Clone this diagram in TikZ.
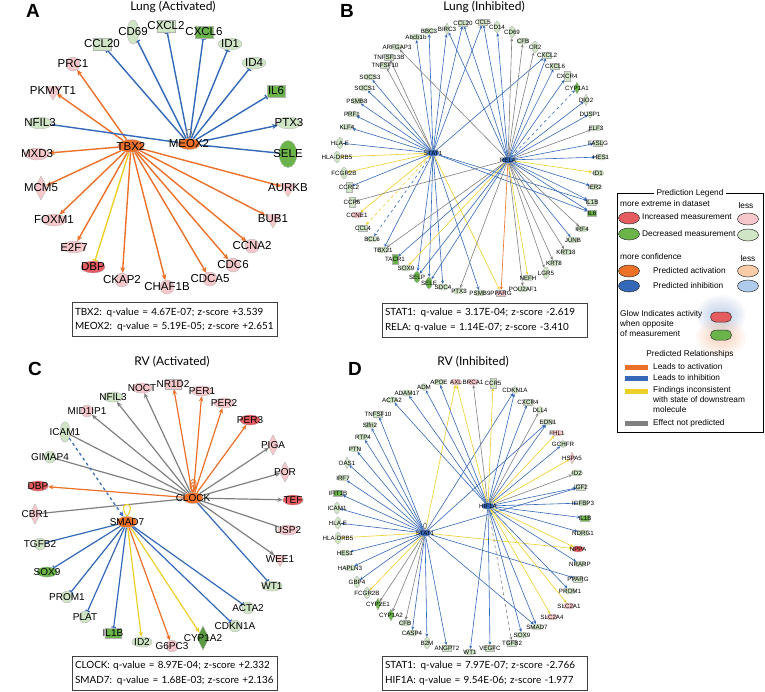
\documentclass[tikz,border=0pt]{standalone}
\usepackage{fontspec}
\setmainfont{Liberation Sans}
\newfontfamily\boxfont{Lato}
\usetikzlibrary{arrows.meta,shapes.geometric}
\pgfdeclarelayer{bg}
\pgfsetlayers{bg,main}

\definecolor{ndp}{RGB}{228,92,96}
\definecolor{nlp}{RGB}{246,200,204}
\definecolor{ndg}{RGB}{106,180,74}
\definecolor{nlg}{RGB}{208,228,198}
\definecolor{actor}{RGB}{236,112,40}
\definecolor{inhbl}{RGB}{52,104,184}
\definecolor{incye}{RGB}{238,206,40}
\definecolor{nprgy}{RGB}{128,128,128}
\definecolor{lorange}{RGB}{248,204,166}
\definecolor{lblue}{RGB}{176,204,236}

\tikzset{
  gshape/.style={inner sep=0pt, draw=black!30, line width=0.3pt},
  ov/.style={gshape, ellipse, minimum width=2.4*\nsz, minimum height=1.2*\nsz},
  vov/.style={gshape, ellipse, minimum width=1.2*\nsz, minimum height=2.4*\nsz},
  rc/.style={gshape, rectangle, minimum width=1.8*\nsz, minimum height=1.2*\nsz},
  vrc/.style={gshape, rectangle, minimum width=1.1*\nsz, minimum height=1.9*\nsz},
  ci/.style={gshape, circle, minimum size=1.4*\nsz},
  dm/.style={gshape, diamond, minimum width=1.3*\nsz, minimum height=2.4*\nsz},
  tri/.style={gshape, regular polygon, regular polygon sides=3, shape border rotate=180, minimum size=1.8*\nsz},
  hub/.style={gshape, ellipse, minimum width=2.6*\nsz, minimum height=1.3*\nsz},
  act/.style={draw=actor, line width=\lw, -{Stealth[length=1.5pt 3, width=1.5pt 2.5]}},
  inh/.style={draw=inhbl, line width=\lw, -{Bar[width=1pt 3]}},
  inha/.style={draw=inhbl, line width=\lw, -{Stealth[length=1.5pt 3, width=1.5pt 2.5]}},
  inhl/.style={draw=inhbl, line width=\lw},
  inc/.style={draw=incye, line width=\lw, -{Stealth[length=1.5pt 3, width=1.5pt 2.5]}},
  incb/.style={draw=incye, line width=\lw, -{Bar[width=1pt 3]}},
  npr/.style={draw=nprgy, line width=\lw, -{Stealth[length=1.5pt 3, width=1.5pt 2.5]}},
  nprl/.style={draw=nprgy, line width=\lw},
  ttl/.style={font=\boxfont\fontsize{12}{12}\selectfont, inner sep=0pt},
  plet/.style={font=\fontsize{19}{19}\selectfont\bfseries, inner sep=0pt},
  qbox/.style={draw=black!75, line width=0.9pt, font=\boxfont\fontsize{9.9}{14.5}\selectfont,
    align=left, inner sep=0pt, minimum width=205, minimum height=34, text width=199},
  lgtxt/.style={font=\fontsize{8.3}{10}\selectfont, inner sep=0pt, anchor=west},
  lgov/.style={ellipse, draw=black!80, line width=0.5pt, minimum width=21, minimum height=12, inner sep=0pt},
  lgpill/.style={rectangle, rounded corners=5pt, draw=black!80, line width=0.5pt, minimum width=21, minimum height=10, inner sep=0pt},
}

\begin{document}
\begin{tikzpicture}[x=1pt, y=-1pt]
\useasboundingbox (0,0) rectangle (765,691);

% A: Lung (Activated)
\begin{scope}[every label/.append style={font=\fontsize{11.5}{12}\selectfont, inner sep=0pt}]
\def\nsz{10}\def\lw{1.4pt}
\node[plet] (Alet) at (33,11) {A};
\node[ttl] (Attl) at (173,7) {Lung (Activated)};
\foreach \n/\x/\y/\s/\c/\t in {
  ccl20/102/44/rc/nlg/CCL20, cd69/133/32/vov/nlg/CD69, cxcl2/166/26/rc/nlg/CXCL2,
  cxcl6/204/32/rc/ndg/CXCL6, id1/230/44/ov/nlg/ID1, id4/254/63/ov/nlg/ID4,
  il6/276/91/rc/ndg/IL6, ptx3/289/123/ov/nlg/PTX3, aurkb/288/188/tri/nlp/AURKB,
  bub1/273/219/tri/nlp/BUB1, ccna2/252/246/ci/nlp/CCNA2, cdc6/233/265/ci/nlp/CDC6,
  cdca5/210/279/ci/nlp/CDCA5, chaf1b/167/287/ci/nlp/CHAF1B, ckap2/122/280/ci/nlp/CKAP2,
  dbp/93/267/ov/ndp/DBP, e2f7/74/247/ov/nlp/E2F7, foxm1/54/220/ov/nlp/FOXM1,
  mcm5/41/188/dm/nlp/MCM5, mxd3/37/154/ov/nlp/MXD3, nfil3/40/123/ov/nlg/NFIL3,
  pkmyt1/53/91/tri/nlp/PKMYT1, prc1/73/64/ci/nlp/PRC1}
  \node[\s, fill=\c, label=center:\t] (A\n) at (\x,\y) {};
\node[vov, fill=ndg, minimum width=18, minimum height=27, label=center:SELE] (Asele) at (288,154) {};
\node[hub, fill=actor, label=center:TBX2] (Atbx2) at (131,146) {};
\node[hub, fill=actor, minimum width=22, minimum height=11, label=center:MEOX2] (Ameox2) at (189,144) {};
\begin{pgfonlayer}{bg}
\foreach \t in {prc1,pkmyt1,mxd3,mcm5,foxm1,e2f7,ckap2,chaf1b,cdca5,cdc6,ccna2,bub1,aurkb}
  \draw[act] (Atbx2) -- (A\t);
\draw[incb] (Atbx2) -- (Adbp);
\foreach \t in {ccl20,cd69,cxcl2,cxcl6,id1,id4,il6}
  \draw[inh] (Ameox2) -- (A\t);
\draw[inha] (Ameox2) -- (Aptx3);
\foreach \t in {sele,nfil3}
  \draw[inhl] (Ameox2) -- (A\t);
\draw[nprl, line width=0.8pt] (Ameox2.north) .. controls +(-9,-12) and +(9,-12) .. (Ameox2.north);
\end{pgfonlayer}
\node[qbox] (Aq) at (174.5,319.5) {TBX2: q-value = 4.67E-07; z-score +3.539\\MEOX2: q-value = 5.19E-05; z-score +2.651};
\end{scope}

% B: Lung (Inhibited)
\begin{scope}[every label/.append style={font=\fontsize{6.2}{7}\selectfont, inner sep=0pt}]
\def\nsz{5}\def\lw{0.6pt}
\node[plet] (Blet) at (347,11) {B};
\node[ttl] (Bttl) at (484,7) {Lung (Inhibited)};
\foreach \n/\x/\y/\s/\c/\t in {
  bbc3/429/31/ov/nlg/BBC3, birc3/447/29/dm/nlg/BIRC3, ccl20/463/23/rc/nlg/CCL20,
  abcb1b/416/37/ov/nlg/Abcb1b, arfgap3/397/47/ov/nlg/ARFGAP3, tnfsf13b/389/57/rc/nlg/TNFSF13B,
  tnfsf10/385/65/rc/nlg/TNFSF10, socs3/370/77/ov/nlg/SOCS3, socs1/365/88/ov/nlg/SOCS1,
  psmb8/357/101/ov/nlg/PSMB8, prf1/352/114/ov/nlg/PRF1, klf4/347/127/ov/nlg/KLF4,
  hlae/340/143/vov/nlg/HLA-E, hladrb5/337/157/vov/nlg/HLA-DRB5, fcgr2b/344/173/vov/nlg/FCGR2B,
  ccrl2/349/187/vrc/nlg/CCRL2, ccr6/352/202/vrc/nlg/CCR6, ccne1/357/215/ov/nlp/CCNE1,
  ccl4/363/228/rc/nlg/CCL4, bcl6/372/239/ov/nlg/BCL6, tbx21/383/250/ov/nlg/TBX21,
  tacr1/395/259/vrc/ndg/TACR1, sox9/406/268/ov/nlg/SOX9, selp/417/277/vov/ndg/SELP,
  sele/429/283/vov/ndg/SELE, sdc4/443/287/ov/nlg/SDC4, ptx3/459/291/ov/nlg/PTX3,
  psmb9/480/293/ov/nlg/PSMB9, pparg/501/293/rc/nlp/PPARG, pou2af1/523/289/ov/nlg/POU2AF1,
  nefh/528/278/ov/nlg/NEFH, lgr5/546/273/vov/nlg/LGR5, krt8/554/263/ov/nlg/KRT8,
  krt18/566/252/ov/nlg/KRT18, junb/573/240/ov/nlg/JUNB, irf4/582/229/ov/nlg/IRF4,
  il6/592/213/rc/ndg/IL6, il1b/592/202/rc/nlg/IL1B, ier2/595/187/ov/nlg/IER2,
  id1/598/173/ov/nlg/ID1, hes1/601/157/ov/nlg/HES1, faslg/598/143/rc/nlg/FASLG,
  elf3/596/128/ov/nlg/ELF3, dusp1/590/114/tri/nlg/DUSP1, dio2/586/100/dm/nlg/DIO2,
  cyp1a1/577/88/dm/ndg/CYP1A1, cxcr4/567/76/vrc/nlg/CXCR4, cxcl6/555/66/rc/nlg/CXCL6,
  cxcl2/547/55/rc/nlg/CXCL2, cr2/535/47/vov/nlg/CR2, cfb/523/41/ov/nlg/CFB,
  cd69/512/32/vov/nlg/CD69, cd14/497/27/vov/nlg/CD14, ccl5/483/22/rc/nlg/CCL5}
  \node[\s, fill=\c, label=center:\t] (B\n) at (\x,\y) {};
\node[hub, fill=inhbl, label=center:STAT1] (Bstat1) at (433,153) {};
\node[hub, fill=inhbl, label=center:RELA] (Brela) at (508,160) {};
\begin{pgfonlayer}{bg}
\foreach \t in {bbc3,abcb1b,socs3,socs1,psmb8,prf1,klf4,hlae,ccrl2,tbx21,selp,sele,sdc4,psmb9,ccl20,ccl5,cxcl2,il6,il1b,birc3}
  \draw[inha] (Bstat1) -- (B\t);
\draw[inha, dashed] (Bstat1) -- (Bbcl6);
\foreach \t in {tnfsf10,tnfsf13b}
  \draw[npr] (Bstat1) -- (B\t);
\foreach \t in {hladrb5,fcgr2b,ccne1,pparg}
  \draw[inc] (Bstat1) -- (B\t);
\draw[inc, dashed] (Bstat1) -- (Bccl4);
\foreach \t in {birc3,ccl20,ccl5,cd14,cxcl2,cxcl6,cxcr4,dio2,dusp1,faslg,hes1,ier2,il1b,il6,junb,tacr1,selp,sele}
  \draw[inha] (Brela) -- (B\t);
\draw[inha, dashed] (Brela) -- (Bcyp1a1);
\foreach \t in {arfgap3,cd69,cfb,cr2,elf3,irf4,krt18,krt8,lgr5,pou2af1,ptx3,ccr6,tbx21}
  \draw[npr] (Brela) -- (B\t);
\draw[act] (Brela) -- (Bpparg);
\foreach \t in {id1,nefh,sox9}
  \draw[inc] (Brela) -- (B\t);
\end{pgfonlayer}
\node[qbox] (Bq) at (484.5,320) {STAT1: q-value = 3.17E-04; z-score -2.619\\RELA: q-value = 1.14E-07; z-score -3.410};
\end{scope}

% C: RV (Activated)
\begin{scope}[every label/.append style={font=\fontsize{10}{11}\selectfont, inner sep=0pt}]
\def\nsz{8.5}\def\lw{1.2pt}
\node[plet] (Clet) at (35,369) {C};
\node[ttl] (Cttl) at (172,362) {RV (Activated)};
\foreach \n/\x/\y/\s/\c/\t in {
  noct/142/388/ov/nlp/NOCT, nr1d2/173/384/rc/nlp/NR1D2, per1/202/391/ov/nlp/PER1,
  per2/224/403/ov/nlp/PER2, per3/250/420/ov/ndp/PER3, piga/273/445/dm/nlp/PIGA,
  por/285/472/dm/nlp/POR, tef/293/500/ov/ndp/TEF, usp2/288/530/ov/nlp/USP2,
  wee1/280/559/tri/nlp/WEE1, wt1/272/586/ov/nlg/WT1, acta2/248/608/ci/nlg/ACTA2,
  cdkn1a/235/626/ci/nlg/CDKN1A, g6pc3/172/646/ci/nlp/G6PC3, id2/142/642/ov/nlg/ID2,
  il1b/113/633/rc/ndg/IL1B, plat/85/617/ci/nlg/PLAT, prom1/67/597/ci/nlg/PROM1,
  sox9/47/572/ov/ndg/SOX9, tgfb2/40/544/ci/nlg/TGFB2, cbr1/35/514/dm/nlp/CBR1,
  dbp/38/486/ov/ndp/DBP, gimap4/50/457/ci/nlg/GIMAP4, icam1/65/432/vov/nlg/ICAM1,
  mid1ip1/87/411/ci/nlp/MID1IP1, nfil3/113/397/ov/nlg/NFIL3}
  \node[\s, fill=\c, label=center:\t] (C\n) at (\x,\y) {};
\node[dm, fill=ndg!85!black, minimum width=12, minimum height=24, label=center:CYP1A2] (Ccyp1a2) at (203,638) {};
\node[hub, fill=actor, minimum width=20, minimum height=11, label=center:CLOCK] (Cclock) at (193,498) {};
\node[hub, fill=actor, minimum width=20, minimum height=11, label=center:SMAD7] (Csmad7) at (127,522) {};
\begin{pgfonlayer}{bg}
\foreach \t in {nfil3,noct,mid1ip1,piga,por,tef,wee1}
  \draw[npr] (Cclock) -- (C\t);
\foreach \t in {gimap4,usp2,cbr1,icam1}
  \draw[nprl] (Cclock) -- (C\t);
\foreach \t in {nr1d2,per1,per2,per3,dbp}
  \draw[act] (Cclock) -- (C\t);
\draw[inh] (Cclock) -- (Cwt1);
\foreach \h/\w in {9/5,13/8,17/11}
  \draw[draw=actor, line width=0.9pt] (Cclock.north) .. controls +(-\w,-\h) and +(\w,-\h) .. (Cclock.north);
\foreach \t in {sox9,prom1,plat,il1b,cdkn1a,acta2}
  \draw[inh] (Csmad7) -- (C\t);
\draw[inhl] (Csmad7) -- (Ctgfb2);
\draw[inha, dashed] (Cicam1) -- (Csmad7);
\foreach \t in {id2,cyp1a2}
  \draw[inc] (Csmad7) -- (C\t);
\draw[act] (Csmad7) -- (Cg6pc3);
\draw[draw=incye, line width=1pt] (Csmad7.north) .. controls +(-12,-16) and +(12,-16) .. (Csmad7.north);
\end{pgfonlayer}
\node[qbox] (Cq) at (174.5,673) {CLOCK: q-value = 8.97E-04; z-score +2.332\\SMAD7: q-value = 1.68E-03; z-score +2.136};
\end{scope}

% D: RV (Inhibited)
\begin{scope}[every label/.append style={font=\fontsize{6.2}{7}\selectfont, inner sep=0pt}]
\def\nsz{5}\def\lw{0.6pt}
\node[plet] (Dlet) at (355,369) {D};
\node[ttl] (Dttl) at (473,362) {RV (Inhibited)};
\foreach \n/\x/\y/\s/\c/\t in {
  adm/424/387/ci/nlg/ADM, apoe/439/382/ov/nlg/APOE, axl/456/382/ov/nlp/AXL,
  brca1/473/382/ov/nlp/BRCA1, ccr5/493/383/vrc/nlg/CCR5, cdkn1a/515/390/ci/nlg/CDKN1A,
  cxcr4/528/402/rc/nlg/CXCR4, dll4/540/410/ci/nlg/DLL4, edn1/548/422/ov/nlg/EDN1,
  fhl1/557/433/ov/nlp/FHL1, gchfr/563/444/ci/nlg/GCHFR, hspa5/572/458/dm/nlp/HSPA5,
  id2/577/473/ov/nlg/ID2, igf2/581/487/rc/nlg/IGF2, igfbp3/583/503/ov/nlg/IGFBP3,
  il1b/585/518/rc/ndg/IL1B, ndrg1/583/533/ov/nlg/NDRG1, nppa/578/549/ov/ndp/NPPA,
  nrarp/580/564/ov/nlg/NRARP, pparg/578/579/rc/nlg/PPARG, prom1/570/591/ov/nlg/PROM1,
  slc2a1/569/606/ov/nlp/SLC2A1, slc2a4/552/617/ov/nlp/SLC2A4, smad7/537/627/ov/nlg/SMAD7,
  sox9/522/635/ov/nlg/SOX9, tgfb2/512/643/rc/nlg/TGFB2, vegfc/490/648/rc/nlg/VEGFC,
  wt1/470/652/ov/nlg/WT1, angpt2/447/648/rc/nlg/ANGPT2, b2m/427/643/vov/nlg/B2M,
  casp4/412/633/ov/nlg/CASP4, cfb/405/623/ov/nlg/CFB, cyp1a2/391/615/dm/ndg/CYP1A2,
  cyp2e1/378/604/dm/ndg/CYP2E1, fcgr2b/367/593/vov/nlg/FCGR2B, gbp4/357/582/vov/nlg/GBP4,
  hapln3/350/568/ov/nlg/HAPLN3, hes1/345/553/ov/nlg/HES1, hladrb5/338/538/vov/nlg/HLA-DRB5,
  hlae/338/523/vov/nlg/HLA-E, icam1/337/508/vov/nlg/ICAM1, ifit1b/338/493/rc/ndg/IFIT1B,
  irf7/343/478/ov/nlg/IRF7, oas1/347/463/dm/nlg/OAS1, ptn/355/449/ov/nlg/PTN,
  rtp4/363/437/ov/nlg/RTP4, slfn2/370/425/ov/nlg/Slfn2, tnfsf10/378/414/rc/nlg/TNFSF10,
  acta2/392/400/ov/nlg/ACTA2, adam17/407/393/ov/nlg/ADAM17}
  \node[\s, fill=\c, label=center:\t] (D\n) at (\x,\y) {};
\node[hub, fill=inhbl, label=center:STAT1] (Dstat1) at (425,533) {};
\node[hub, fill=inhbl, label=center:HIF1A] (Dhif1a) at (488,506) {};
\begin{pgfonlayer}{bg}
\foreach \t in {tnfsf10,slfn2,rtp4,ptn,oas1,irf7,ifit1b,icam1,hlae,hes1,hapln3,gbp4,casp4,b2m,angpt2,cdkn1a,edn1,pparg,smad7,igf2}
  \draw[inha] (Dstat1) -- (D\t);
\foreach \t in {hladrb5,fcgr2b,axl,nppa}
  \draw[inc] (Dstat1) -- (D\t);
\foreach \t in {cyp2e1,cyp1a2,cfb}
  \draw[npr] (Dstat1) -- (D\t);
\foreach \t in {adm,apoe,adam17,acta2,cdkn1a,cxcr4,edn1,gchfr,igf2,igfbp3,il1b,ndrg1,nrarp,prom1,smad7,sox9,vegfc,wt1}
  \draw[inha] (Dhif1a) -- (D\t);
\foreach \t in {axl,ccr5,fhl1,hspa5,slc2a1,slc2a4,nppa}
  \draw[inc] (Dhif1a) -- (D\t);
\foreach \t in {brca1,dll4,id2}
  \draw[npr] (Dhif1a) -- (D\t);
\draw[npr, dashed] (Dhif1a) -- (Dtgfb2);
\draw[nprl] (Dstat1.north) .. controls +(-6,-9) and +(6,-9) .. (Dstat1.north);
\end{pgfonlayer}
\node[qbox] (Dq) at (484.5,673) {STAT1: q-value = 7.97E-07; z-score -2.766\\HIF1A: q-value = 9.54E-06; z-score -1.977};
\end{scope}

% legend
\draw[black, line width=0.8pt] (617,193) rectangle (763,432);
\node[lgtxt, anchor=center, fill=white, inner xsep=3pt] (Ltitle) at (690,193) {Prediction Legend};
\node[lgtxt] (Lmore) at (620,204) {more extreme in dataset};
\node[lgtxt, anchor=center] (Lless) at (746,206) {less};
\node[lgov, fill=ndp] (Lup) at (629,218) {};
\node[lgtxt] (Luptxt) at (642,217) {Increased measurement};
\node[lgov, fill=nlp] (Lupl) at (748,219) {};
\node[lgov, fill=ndg] (Ldn) at (629,234) {};
\node[lgtxt] (Ldntxt) at (642,234) {Decreased measurement};
\node[lgov, fill=nlg] (Ldnl) at (748,235) {};
\node[lgtxt] (Lconf) at (620,257) {more confidence};
\node[lgtxt, anchor=center] (Lless2) at (748,259) {less};
\node[lgov, fill=actor] (Lact) at (629,271) {};
\node[lgtxt] (Lacttxt) at (653,271) {Predicted activation};
\node[lgov, fill=lorange] (Lactl) at (748,271) {};
\node[lgov, fill=inhbl] (Linh) at (629,286) {};
\node[lgtxt] (Linhtxt) at (653,286) {Predicted inhibition};
\node[lgov, fill=lblue] (Linhl) at (748,286) {};
\node[lgtxt, anchor=north west, align=left, font=\fontsize{8.3}{10}\selectfont] (Lglow) at (620,310) {Glow Indicates activity\\when opposite\\of measurement};
\foreach \r in {1,...,6} {
  \fill[inhbl, opacity=0.04] (721,315) ellipse ({10+2.5*\r} and {5+2.5*\r});
  \fill[actor, opacity=0.04] (721,337) ellipse ({10+2.5*\r} and {5+2.5*\r});
}
\node[lgpill, fill=ndp] (Lglr) at (721,317) {};
\node[lgpill, fill=ndg] (Lglg) at (721,335) {};
\node[lgtxt, anchor=center] (Lrel) at (690,354) {Predicted Relationships};
\fill[actor] (625,365) rectangle (648,369.5);
\node[lgtxt] (Lr1) at (653,367) {Leads to activation};
\fill[inhbl] (625,376) rectangle (648,380.5);
\node[lgtxt] (Lr2) at (653,378) {Leads to inhibition};
\fill[incye] (625,389) rectangle (648,393.5);
\node[lgtxt, anchor=north west, align=left] (Lr3) at (653,386) {Findings inconsistent\\with state of downstream\\molecule};
\fill[nprgy] (625,421) rectangle (648,425.5);
\node[lgtxt] (Lr4) at (653,423) {Effect not predicted};
\end{tikzpicture}
\end{document}
